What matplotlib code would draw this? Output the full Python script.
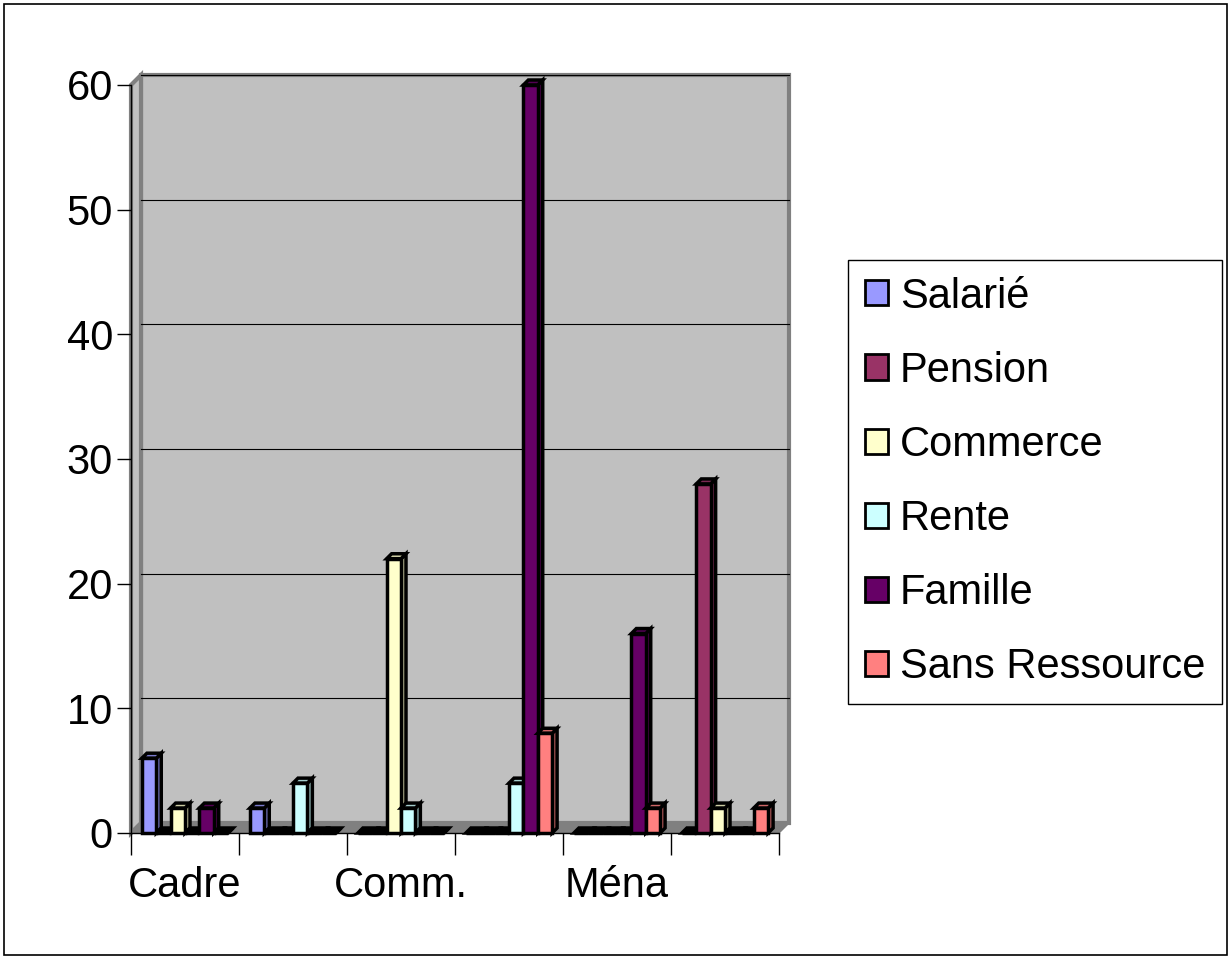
import numpy as np
import matplotlib
matplotlib.use('Agg')
import matplotlib.pyplot as plt
from matplotlib.transforms import ScaledTranslation
from matplotlib.patches import Rectangle, Polygon

plt.rcParams['font.family'] = ['Liberation Sans', 'DejaVu Sans']

# categories (only every other one is labelled on the axis)
categories = ['Cadre', '', 'Comm.', '', 'Ména', '']
series = ['Salarié', 'Pension', 'Commerce', 'Rente', 'Famille', 'Sans Ressource']
salarie = [6, 2, 0, 0, 0, 0]
pension = [0, 0, 0, 0, 0, 28]
commerce = [2, 0, 22, 0, 0, 2]
rente = [0, 4, 2, 4, 0, 0]
famille = [2, 0, 0, 60, 16, 0]
sans_ressource = [0, 0, 0, 8, 2, 2]
yticks = [0, 10, 20, 30, 40, 50, 60]

values = [salarie, pension, commerce, rente, famille, sans_ressource]
colors = ['#9999FF', '#993366', '#FFFFCC', '#CCFFFF', '#660066', '#FF8080']
sides = ['#6B6BB3', '#6B2447', '#B3B38F', '#8FB3B3', '#470047', '#B35A5A']
tops = ['#7A7ACC', '#7A2952', '#CCCCA3', '#A3CCCC', '#520052', '#CC6666']

W, H = 1232, 959
fig = plt.figure(figsize=(W / 100, H / 100), dpi=100)
fig.patches.append(Rectangle((4 / W, 4 / H), 1 - 9 / W, 1 - 8 / H, transform=fig.transFigure,
                             fill=False, edgecolor='black', linewidth=1.2))

ax_l, ax_r, ax_t, ax_b = 131, 779, 85, 833
ax = fig.add_axes([ax_l / W, (H - ax_b) / H, (ax_r - ax_l) / W, (ax_b - ax_t) / H])
ax.set_xlim(0, len(categories))
ax.set_ylim(0, 60)
ax.set_facecolor('none')

# 3d wall
depth = 10
dx = depth / (ax_r - ax_l)
dy = depth / (ax_b - ax_t)
off = ax.transAxes + ScaledTranslation(depth / 100, depth / 100, fig.dpi_scale_trans)
ax.add_patch(Rectangle((0, 0), 1, 1, transform=off, facecolor='#C0C0C0',
                       edgecolor='#808080', linewidth=3, zorder=0, clip_on=False))
ax.add_patch(Polygon([(0, 0), (dx, dy), (dx, 1 + dy), (0, 1)], closed=True, transform=ax.transAxes,
                     facecolor='#C0C0C0', edgecolor='#808080', linewidth=3, zorder=0.5, clip_on=False))
ax.add_patch(Polygon([(0, 0), (1, 0), (1 + dx, dy), (dx, dy)], closed=True, transform=ax.transAxes,
                     facecolor='#808080', edgecolor='#808080', linewidth=1, zorder=0.6, clip_on=False))
grid_tr = ax.get_yaxis_transform() + ScaledTranslation(depth / 100, depth / 100, fig.dpi_scale_trans)
for t in yticks[1:]:
    ax.plot([0, 1], [t, t], color='black', linewidth=0.8, transform=grid_tr, zorder=0.7, clip_on=False)

# bars with a little depth (5 px)
x = np.arange(len(categories))
w = 0.133
ddx = 5 * len(categories) / (ax_r - ax_l)
ddy = 5 * 60 / (ax_b - ax_t)
z = 2
for i, (vals, c, sc, tc) in enumerate(zip(values, colors, sides, tops)):
    xs = x + 0.5 + (i - 2.5) * w
    for xc, v in zip(xs, vals):
        x0, x1 = xc - w / 2, xc + w / 2
        ax.add_patch(Polygon([(x1, 0), (x1 + ddx, ddy), (x1 + ddx, v + ddy), (x1, v)], closed=True,
                             facecolor=sc, edgecolor='black', linewidth=2.5, zorder=z, clip_on=False))
        ax.add_patch(Polygon([(x0, v), (x1, v), (x1 + ddx, v + ddy), (x0 + ddx, v + ddy)], closed=True,
                             facecolor=tc if v > 0 else 'black', edgecolor='black', linewidth=2.5,
                             zorder=z, clip_on=False))
        z += 0.01
    ax.bar(xs, vals, w, color=c, edgecolor='black', linewidth=2.5, zorder=z, label=series[i], clip_on=False)
    z += 0.01

# axes
for s in ['top', 'right']:
    ax.spines[s].set_visible(False)
ax.spines['left'].set_linewidth(1)
ax.spines['bottom'].set_linewidth(1)
ax.set_yticks(yticks)
ax.set_yticklabels([str(t) for t in yticks])
ax.tick_params(axis='y', direction='out', length=10, width=1, labelsize=30, pad=3)
ax.set_xticks(np.arange(len(categories) + 1))
ax.set_xticklabels([])
ax.set_xticks(x + 0.5, minor=True)
ax.set_xticklabels(categories, minor=True)
ax.tick_params(axis='x', which='major', direction='out', length=16, width=1)
ax.tick_params(axis='x', which='minor', length=0, labelsize=30, pad=24)

leg = fig.legend(loc='center left', bbox_to_anchor=(848 / W, (H - 482) / H), fontsize=30,
                 frameon=True, fancybox=False, edgecolor='black', framealpha=1,
                 handlelength=0.55, handleheight=0.55, handletextpad=0.3,
                 labelspacing=0.82, borderpad=0.4, borderaxespad=0)
leg.get_frame().set_linewidth(1)
for h in leg.legend_handles:
    h.set_linewidth(2)

fig.savefig('out.png', dpi=100)
